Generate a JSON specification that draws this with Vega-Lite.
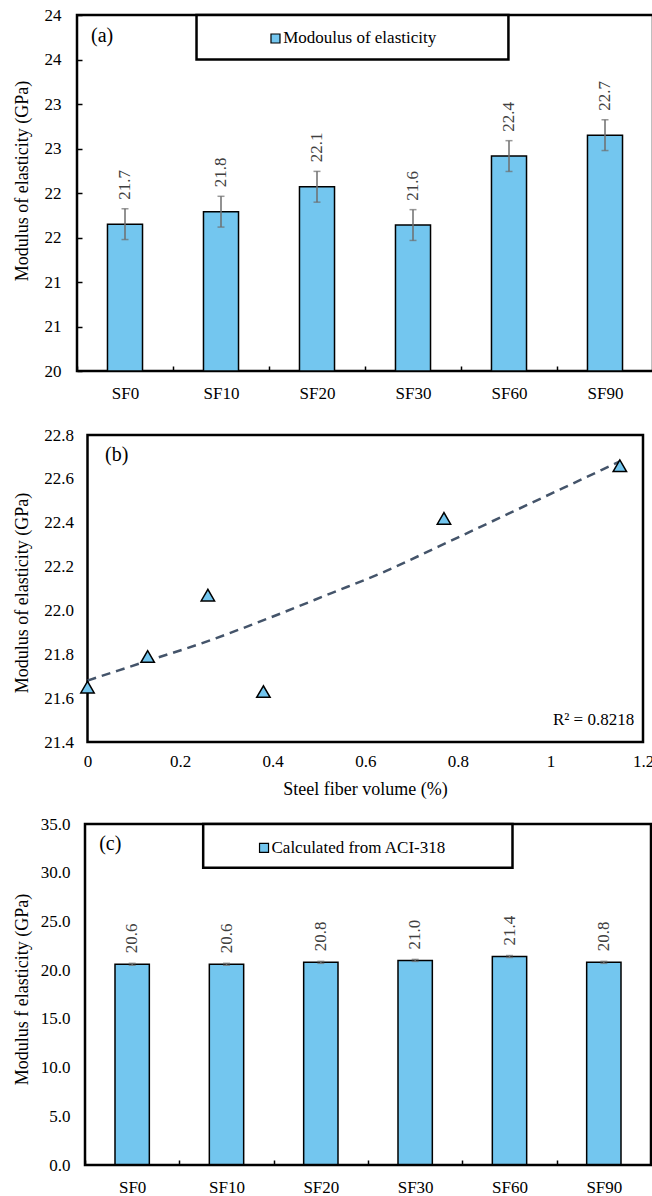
{
  "$schema": "https://vega.github.io/schema/vega-lite/v6.json",
  "background": "white",
  "padding": {"top": 4, "left": 11, "right": 0, "bottom": 0},
  "config": {
    "font": "Liberation Serif",
    "view": {"stroke": "black", "strokeWidth": 2.5},
    "axis": {"labelFont": "Liberation Serif", "titleFont": "Liberation Serif", "labelFontSize": 17, "titleFontSize": 18, "titleFontWeight": "normal", "labelColor": "black", "titleColor": "black", "grid": false, "domain": false, "labelFlush": false, "labelOverlap": false},
    "text": {"font": "Liberation Serif"}
  },
  "spacing": 17,
  "vconcat": [
    {
      "spacing": 23,
      "vconcat": [
        {
          "width": 576,
          "height": 356,
          "resolve": {"scale": {"x": "independent"}},
          "layer": [
            {
              "data": {"values": [
                {"mix": "SF0", "mean": 21.65, "lo": 21.477, "hi": 21.823, "label": "21.7"},
                {"mix": "SF10", "mean": 21.79, "lo": 21.617, "hi": 21.963, "label": "21.8"},
                {"mix": "SF20", "mean": 22.07, "lo": 21.897, "hi": 22.243, "label": "22.1"},
                {"mix": "SF30", "mean": 21.64, "lo": 21.467, "hi": 21.813, "label": "21.6"},
                {"mix": "SF60", "mean": 22.415, "lo": 22.242, "hi": 22.588, "label": "22.4"},
                {"mix": "SF90", "mean": 22.65, "lo": 22.477, "hi": 22.823, "label": "22.7"}
              ]},
              "encoding": {
                "x": {"field": "mix", "type": "nominal", "sort": null, "scale": {"paddingInner": 0, "paddingOuter": 0},
                  "axis": {"title": null, "labelAngle": 0, "tickBand": "extent", "ticks": true, "tickSize": -5, "tickWidth": 1.5, "tickColor": "black", "labelPadding": 19}}
              },
              "layer": [
                {
                  "mark": {"type": "bar", "fill": "#73C6EF", "stroke": "black", "strokeWidth": 1.5, "width": {"band": 0.365}},
                  "encoding": {
                    "y": {"field": "mean", "type": "quantitative", "scale": {"domain": [20, 24], "nice": false, "zero": false},
                      "axis": {"title": "Modulus of elasticity (GPa)", "values": [20, 20.5, 21, 21.5, 22, 22.5, 23, 23.5, 24], "format": ".0f", "ticks": true, "tickSize": -5, "tickWidth": 1.5, "tickColor": "black", "labelPadding": 21, "titleX": -55, "titleY": 165.5, "titleAngle": 270, "titleAlign": "center", "titleBaseline": "middle"}},
                    "y2": {"datum": 20}
                  }
                },
                {"mark": {"type": "rule", "color": "#6E6E6E", "strokeWidth": 1.5}, "encoding": {"y": {"field": "lo", "type": "quantitative"}, "y2": {"field": "hi"}}},
                {"mark": {"type": "tick", "color": "#6E6E6E", "thickness": 1.5, "size": 7}, "encoding": {"y": {"field": "lo", "type": "quantitative"}}},
                {"mark": {"type": "tick", "color": "#6E6E6E", "thickness": 1.5, "size": 7}, "encoding": {"y": {"field": "hi", "type": "quantitative"}}},
                {"mark": {"type": "text", "angle": 270, "align": "left", "baseline": "middle", "dx": 9, "fontSize": 17, "font": "Liberation Serif", "color": "#404040"}, "encoding": {"y": {"field": "hi", "type": "quantitative"}, "text": {"field": "label"}}}
              ]
            },
            {
              "layer": [
                {
                  "data": {"values": [{"x1": 0.2075, "x2": 0.749, "y1": 23.5, "y2": 24}]},
                  "mark": {"type": "rect", "fill": "white", "stroke": "black", "strokeWidth": 2.5},
                  "encoding": {"x": {"field": "x1", "type": "quantitative", "scale": {"domain": [0, 1], "nice": false, "zero": false}, "axis": null}, "x2": {"field": "x2"}, "y": {"field": "y1", "type": "quantitative"}, "y2": {"field": "y2"}}
                },
                {
                  "data": {"values": [{"x": 0.3446, "y": 23.736}]},
                  "mark": {"type": "point", "shape": "square", "size": 81, "filled": true, "fill": "#73C6EF", "stroke": "black", "strokeWidth": 1.2, "opacity": 1},
                  "encoding": {"x": {"field": "x", "type": "quantitative", "scale": {"domain": [0, 1], "nice": false, "zero": false}, "axis": null}, "y": {"field": "y", "type": "quantitative"}}
                },
                {
                  "data": {"values": [{"x": 0.358, "y": 23.736, "t": "Modoulus of elasticity"}]},
                  "mark": {"type": "text", "align": "left", "baseline": "middle", "fontSize": 17, "font": "Liberation Serif", "color": "black"},
                  "encoding": {"x": {"field": "x", "type": "quantitative", "scale": {"domain": [0, 1], "nice": false, "zero": false}, "axis": null}, "y": {"field": "y", "type": "quantitative"}, "text": {"field": "t"}}
                },
                {
                  "data": {"values": [{"x": 0.0437, "y": 23.764, "t": "(a)"}]},
                  "mark": {"type": "text", "align": "center", "baseline": "middle", "fontSize": 20, "font": "Liberation Serif", "color": "black"},
                  "encoding": {"x": {"field": "x", "type": "quantitative", "scale": {"domain": [0, 1], "nice": false, "zero": false}, "axis": null}, "y": {"field": "y", "type": "quantitative"}, "text": {"field": "t"}}
                }
              ]
            }
          ]
        },
        {
          "width": 566,
          "height": 307,
          "view": {"stroke": null},
          "layer": [
            {
              "data": {"values": [{"x1": 0, "x2": 1.2, "y1": 21.4, "y2": 22.8}]},
              "mark": {"type": "rect", "fillOpacity": 0, "stroke": "black", "strokeWidth": 2.5},
              "encoding": {
                "x": {"field": "x1", "type": "quantitative", "scale": {"domain": [0, 1.2], "nice": false, "zero": false, "range": [10.5, 566]},
                  "axis": {"title": "Steel fiber volume (%)", "values": [0, 0.2, 0.4, 0.6, 0.8, 1, 1.2], "format": "~g", "ticks": false, "tickSize": 0, "labelPadding": 11, "titleX": 288, "titleY": 47, "titleAlign": "center", "titleBaseline": "middle"}},
                "x2": {"field": "x2"},
                "y": {"field": "y1", "type": "quantitative", "scale": {"domain": [21.4, 22.8], "nice": false, "zero": false},
                  "axis": {"title": "Modulus of elasticity (GPa)", "values": [21.4, 21.6, 21.8, 22, 22.2, 22.4, 22.6, 22.8], "format": ".1f", "ticks": false, "tickSize": 0, "labelPadding": 3.5, "titleX": -55, "titleY": 157.5, "titleAngle": 270, "titleAlign": "center", "titleBaseline": "middle"}},
                "y2": {"field": "y2"}
              }
            },
            {
              "data": {"values": [
                {"x": 0, "y": 21.68}, {"x": 0.13, "y": 21.77}, {"x": 0.26, "y": 21.86}, {"x": 0.354, "y": 21.934},
                {"x": 0.527, "y": 22.079}, {"x": 0.642, "y": 22.177}, {"x": 0.758, "y": 22.291}, {"x": 0.873, "y": 22.405},
                {"x": 0.988, "y": 22.519}, {"x": 1.11, "y": 22.64}, {"x": 1.15, "y": 22.68}
              ]},
              "mark": {"type": "line", "color": "#44546A", "strokeWidth": 2.5, "strokeDash": [9, 6], "interpolate": "monotone"},
              "encoding": {"x": {"field": "x", "type": "quantitative"}, "y": {"field": "y", "type": "quantitative"}}
            },
            {
              "data": {"values": [
                {"vol": 0, "E": 21.65}, {"vol": 0.13, "E": 21.79}, {"vol": 0.26, "E": 22.07},
                {"vol": 0.38, "E": 21.63}, {"vol": 0.77, "E": 22.42}, {"vol": 1.15, "E": 22.66}
              ]},
              "mark": {"type": "point", "shape": "triangle-up", "size": 180, "filled": true, "fill": "#73C6EF", "stroke": "black", "strokeWidth": 1.5, "opacity": 1},
              "encoding": {"x": {"field": "vol", "type": "quantitative"}, "y": {"field": "E", "type": "quantitative"}}
            },
            {
              "data": {"values": [{"x": 0.063, "y": 22.709, "t": "(b)"}]},
              "mark": {"type": "text", "align": "center", "baseline": "middle", "fontSize": 20, "font": "Liberation Serif", "color": "black"},
              "encoding": {"x": {"field": "x", "type": "quantitative"}, "y": {"field": "y", "type": "quantitative"}, "text": {"field": "t"}}
            },
            {
              "data": {"values": [{"x": 1.181, "y": 21.479, "t": "R² = 0.8218"}]},
              "mark": {"type": "text", "align": "right", "baseline": "alphabetic", "fontSize": 17, "font": "Liberation Serif", "color": "black"},
              "encoding": {"x": {"field": "x", "type": "quantitative"}, "y": {"field": "y", "type": "quantitative"}, "text": {"field": "t"}}
            }
          ]
        }
      ]
    },
    {
      "width": 574,
      "height": 341,
      "view": {"stroke": null},
      "resolve": {"scale": {"x": "independent"}},
      "layer": [
        {
          "data": {"values": [
            {"mix": "SF0", "mean": 20.6, "lo": 20.5, "hi": 20.7, "label": "20.6"},
            {"mix": "SF10", "mean": 20.6, "lo": 20.5, "hi": 20.7, "label": "20.6"},
            {"mix": "SF20", "mean": 20.8, "lo": 20.7, "hi": 20.9, "label": "20.8"},
            {"mix": "SF30", "mean": 21.0, "lo": 20.9, "hi": 21.1, "label": "21.0"},
            {"mix": "SF60", "mean": 21.4, "lo": 21.3, "hi": 21.5, "label": "21.4"},
            {"mix": "SF90", "mean": 20.8, "lo": 20.7, "hi": 20.9, "label": "20.8"}
          ]},
          "encoding": {
            "x": {"field": "mix", "type": "nominal", "sort": null, "scale": {"paddingInner": 0, "paddingOuter": 0, "range": [8, 574]},
              "axis": {"title": null, "labelAngle": 0, "tickBand": "extent", "ticks": true, "tickSize": -5, "tickWidth": 1.5, "tickColor": "black", "labelPadding": 19}}
          },
          "layer": [
            {
              "mark": {"type": "bar", "fill": "#73C6EF", "stroke": "black", "strokeWidth": 1.5, "width": {"band": 0.364}},
              "encoding": {
                "y": {"field": "mean", "type": "quantitative", "scale": {"domain": [0, 35], "nice": false, "zero": false},
                  "axis": {"title": "Modulus f elasticity (GPa)", "values": [0, 5, 10, 15, 20, 25, 30, 35], "format": ".1f", "ticks": false, "tickSize": 0, "labelPadding": 7, "titleX": -55, "titleY": 165, "titleAngle": 270, "titleAlign": "center", "titleBaseline": "middle"}},
                "y2": {"datum": 0}
              }
            },
            {"mark": {"type": "rule", "color": "#6E6E6E", "strokeWidth": 1.5}, "encoding": {"y": {"field": "lo", "type": "quantitative"}, "y2": {"field": "hi"}}},
            {"mark": {"type": "tick", "color": "#6E6E6E", "thickness": 1.5, "size": 7}, "encoding": {"y": {"field": "lo", "type": "quantitative"}}},
            {"mark": {"type": "tick", "color": "#6E6E6E", "thickness": 1.5, "size": 7}, "encoding": {"y": {"field": "hi", "type": "quantitative"}}},
            {"mark": {"type": "text", "angle": 270, "align": "left", "baseline": "middle", "dx": 10, "fontSize": 17, "font": "Liberation Serif", "color": "#404040"}, "encoding": {"y": {"field": "hi", "type": "quantitative"}, "text": {"field": "label"}}}
          ]
        },
        {
          "layer": [
            {
              "data": {"values": [{"x1": 0, "x2": 1, "y1": 0, "y2": 35}]},
              "mark": {"type": "rect", "fillOpacity": 0, "stroke": "black", "strokeWidth": 2.5},
              "encoding": {"x": {"field": "x1", "type": "quantitative", "scale": {"domain": [0, 1], "nice": false, "zero": false, "range": [8, 574]}, "axis": null}, "x2": {"field": "x2"}, "y": {"field": "y1", "type": "quantitative"}, "y2": {"field": "y2"}}
            },
            {
              "data": {"values": [{"x1": 0.2088, "x2": 0.7553, "y1": 30.5, "y2": 35}]},
              "mark": {"type": "rect", "fill": "white", "stroke": "black", "strokeWidth": 2.5},
              "encoding": {"x": {"field": "x1", "type": "quantitative"}, "x2": {"field": "x2"}, "y": {"field": "y1", "type": "quantitative"}, "y2": {"field": "y2"}}
            },
            {
              "data": {"values": [{"x": 0.3163, "y": 32.54}]},
              "mark": {"type": "point", "shape": "square", "size": 81, "filled": true, "fill": "#73C6EF", "stroke": "black", "strokeWidth": 1.2, "opacity": 1},
              "encoding": {"x": {"field": "x", "type": "quantitative"}, "y": {"field": "y", "type": "quantitative"}}
            },
            {
              "data": {"values": [{"x": 0.3295, "y": 32.54, "t": "Calculated from ACI-318"}]},
              "mark": {"type": "text", "align": "left", "baseline": "middle", "fontSize": 17, "font": "Liberation Serif", "color": "black"},
              "encoding": {"x": {"field": "x", "type": "quantitative"}, "y": {"field": "y", "type": "quantitative"}, "text": {"field": "t"}}
            },
            {
              "data": {"values": [{"x": 0.0447, "y": 32.95, "t": "(c)"}]},
              "mark": {"type": "text", "align": "center", "baseline": "middle", "fontSize": 20, "font": "Liberation Serif", "color": "black"},
              "encoding": {"x": {"field": "x", "type": "quantitative"}, "y": {"field": "y", "type": "quantitative"}, "text": {"field": "t"}}
            }
          ]
        }
      ]
    }
  ]
}
